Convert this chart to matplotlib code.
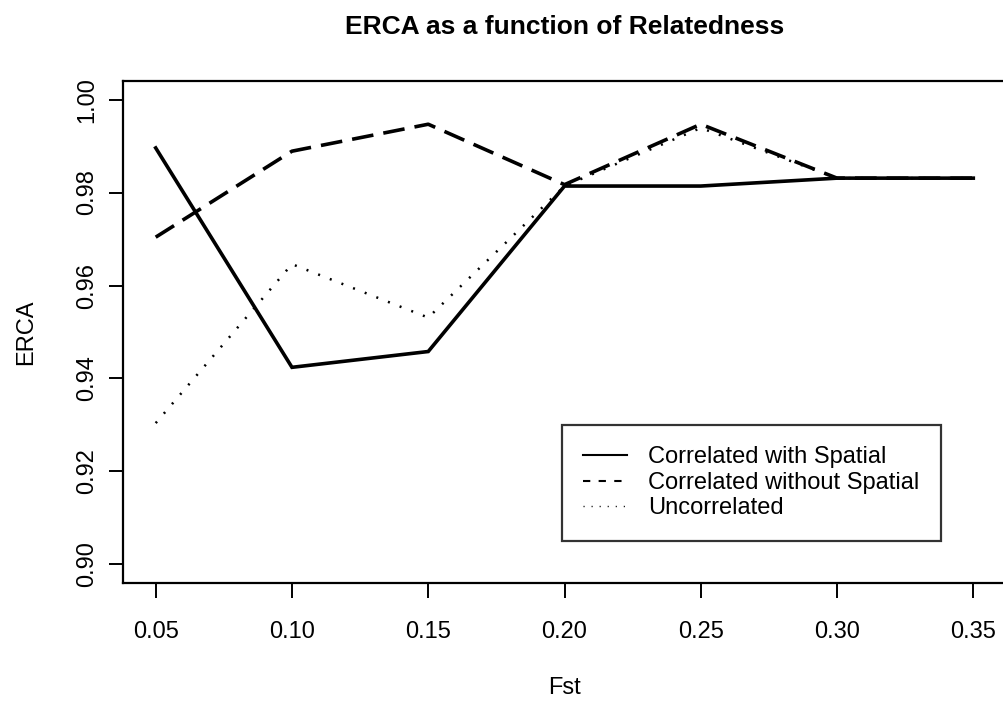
import matplotlib
matplotlib.use("Agg")
import matplotlib.pyplot as plt
from matplotlib.lines import Line2D

plt.rcParams["font.family"] = ["Liberation Sans", "DejaVu Sans"]

# values
fst = [0.05, 0.10, 0.15, 0.20, 0.25, 0.30, 0.35]
corr_spatial = [0.9896, 0.9424, 0.9458, 0.9814, 0.9814, 0.9831, 0.9831]
corr_no_spatial = [0.9704, 0.9889, 0.9947, 0.9817, 0.9947, 0.9831, 0.9831]
uncorrelated = [0.9304, 0.9646, 0.9531, 0.9814, 0.9939, 0.9831, 0.9831]

labels = ["Correlated with Spatial", "Correlated without Spatial", "Uncorrelated"]
x_ticks = [0.05, 0.10, 0.15, 0.20, 0.25, 0.30, 0.35]
y_ticks = [0.90, 0.92, 0.94, 0.96, 0.98, 1.00]

fig = plt.figure(figsize=(10.04, 7.04), dpi=100, facecolor="white")
ax = fig.add_axes([123 / 1004, 1 - 583 / 704, (1006 - 123) / 1004, (583 - 81) / 704])

ax.plot(fst, corr_spatial, color="black", lw=2.6, solid_joinstyle="miter")
ax.plot(fst, corr_no_spatial, color="black", lw=2.6, dashes=(6.0, 2.8))
ax.plot(fst, uncorrelated, color="black", lw=1.8, dashes=(0.8, 4.2))

ax.set_xlim(0.038, 0.362)
ax.set_ylim(0.896, 1.004)
ax.set_xticks(x_ticks)
ax.set_xticklabels([f"{v:.2f}" for v in x_ticks])
ax.set_yticks(y_ticks)
ax.set_yticklabels([f"{v:.2f}" for v in y_ticks], rotation=90, va="center")
ax.tick_params(axis="both", direction="out", width=1.4, labelsize=17,
               color="black")
ax.tick_params(axis="x", length=11, pad=16)
ax.tick_params(axis="y", length=10, pad=8)
for s in ax.spines.values():
    s.set_linewidth(1.6)

ax.set_xlabel("Fst", fontsize=17, labelpad=25)
ax.set_ylabel("ERCA", fontsize=17, labelpad=28)
ax.set_title("ERCA as a function of Relatedness", fontsize=19,
             fontweight="bold", pad=34)

# legend keys drawn thinner and with shorter dashes, like the reference
handles = [
    Line2D([], [], color="black", lw=1.5),
    Line2D([], [], color="black", lw=1.5, dashes=(3.5, 4.0)),
    Line2D([], [], color="black", lw=1.0, dashes=(0.8, 5.0)),
]
leg = ax.legend(handles, labels, loc="upper left",
                bbox_to_anchor=((562 - 123) / 883, 1 - (425 - 81) / 502),
                fontsize=17, frameon=True, fancybox=False, handlelength=1.85,
                handletextpad=0.9, borderpad=0.9, labelspacing=0.15,
                borderaxespad=0)
leg.get_frame().set_edgecolor("black")
leg.get_frame().set_linewidth(1.6)

fig.savefig("out.png", dpi=100, facecolor="white")
